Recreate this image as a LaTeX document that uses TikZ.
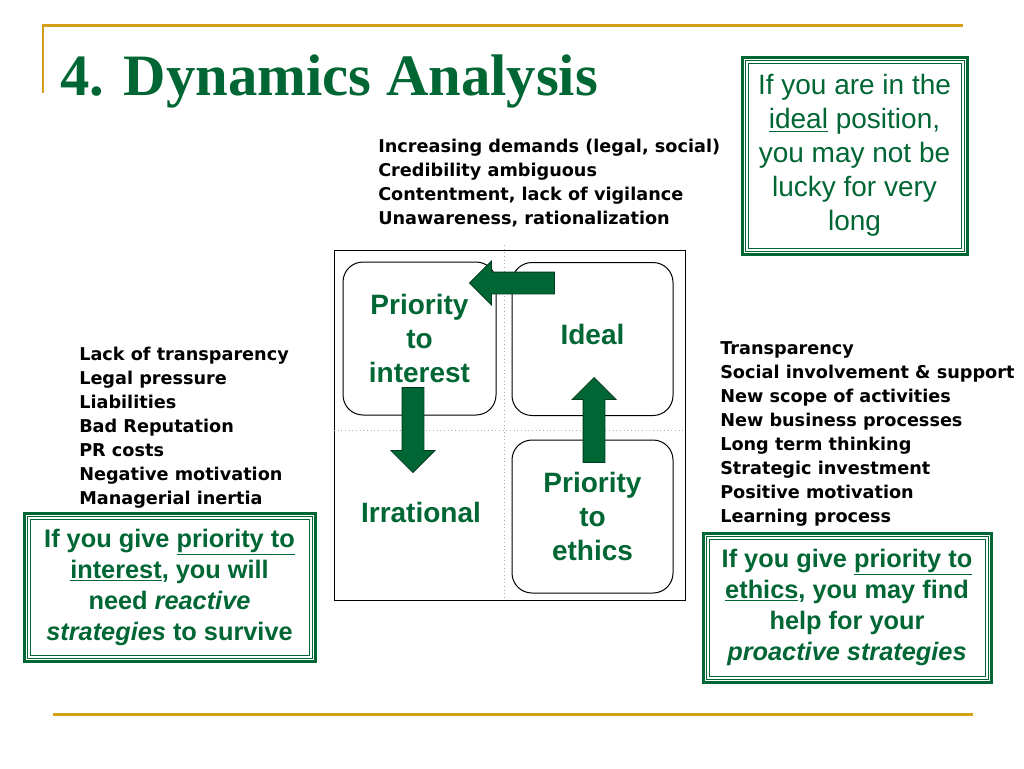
\documentclass[tikz,border=0pt]{standalone}
\usepackage{fontspec}
\setmainfont{Liberation Sans}
\newfontfamily\titlefont{Liberation Serif}
\newfontfamily\listfont{DejaVu Sans}
\definecolor{main}{RGB}{0,102,51}
\definecolor{second}{RGB}{212,160,23}
\definecolor{third}{RGB}{170,170,170}
\usetikzlibrary{
	shapes.arrows,
	arrows.meta,
	positioning
}
\tikzset{
  % line
	cstgold/.style    ={second, line width=2.25pt},
	cstgrid/.style    ={third, dotted, line width=0.75pt},
	cstframe/.style   ={main, line width=0.6pt},
  % node
	csttitle/.style   ={anchor=base west, inner sep=0pt, text=main, font=\titlefont\bfseries\fontsize{44}{50}\selectfont},
	cstlist/.style    ={anchor=north west, inner sep=0pt, align=left, font=\listfont\bfseries\fontsize{13.25}{18}\selectfont},
	cstlabel/.style   ={align=center, text=main, inner sep=0pt, font=\bfseries\fontsize{21}{25.5}\selectfont},
	cstround/.style   ={cstlabel, draw=black, line width=0.75pt, rounded corners=15pt, minimum width=120.75pt, minimum height=114.75pt},
	cstnote/.style    ={draw=main, line width=2.25pt, align=center, text=main, inner sep=0pt},
	cstarrow/.style   ={single arrow, fill=main, draw=main!60!black, line width=0.6pt, minimum width=32.25pt, minimum height=63.75pt, single arrow head extend=8.25pt, inner sep=7.875pt}
}
\begin{document}
\begin{tikzpicture}[x=0.75pt,y=-0.75pt]
	\fill[white] (0,0) rectangle (1024,768);
	\useasboundingbox (0,0) rectangle (1024,768);
	% frame lines
	\draw[cstgold] (42,25) -- (963,25);
	\draw[second, line width=1.1pt] (43,25) -- (43,93);
	\draw[cstgold] (53,714) -- (973,714);
	\node[csttitle] (title) at (60,95) {4. Dynamics Analysis};
	% matrix
	\draw[line width=0.75pt] (334,250) rectangle (685,600);
	\draw[cstgrid] (504,245) -- (504,598);
	\draw[cstgrid] (334,430) -- (685,430);
	\node[cstround, minimum width=114.75pt] (interest) at (419.5,338.5) {Priority\\to\\interest};
	\node[cstround] (ideal) at (592.5,339) {\raisebox{7.5pt}{Ideal}};
	\node[cstround] (ethics) at (592.5,516.5) {Priority\\to\\ethics};
	\node[cstlabel] (irrational) at (421,512) {Irrational};
	\node[cstarrow, shape border rotate=180] (toint) at (517.5,283) {};
	\node[cstarrow, shape border rotate=270] (toirr) at (413,424.5) {};
	\node[cstarrow, shape border rotate=90] (toideal) at (594,425.5) {};
	% lists
	\node[cstlist] (risks) at (378,139) {Increasing demands (legal, social)\\Credibility ambiguous\\Contentment, lack of vigilance\\Unawareness, rationalization};
	\node[cstlist] (costs) at (79,347) {Lack of transparency\\Legal pressure\\Liabilities\\Bad Reputation\\PR costs\\Negative motivation\\Managerial inertia};
	\node[cstlist] (gains) at (720,341) {Transparency\\Social involvement \& support\\New scope of activities\\New business processes\\Long term thinking\\Strategic investment\\Positive motivation\\Learning process};
	% notes
	\node[cstnote, minimum width=168.75pt, minimum height=147.75pt, font=\fontsize{21}{25.5}\selectfont] (idealnote) at (854.5,155.5) {If you are in the\\\underline{ideal} position,\\you may not be\\lucky for very\\long};
	\node[cstnote, minimum width=218.25pt, minimum height=111pt, font=\bfseries\fontsize{19}{23.25}\selectfont] (intnote) at (169.5,587) {If you give \underline{priority to}\\\underline{interest}, you will\\need \textit{reactive}\\\textit{strategies} to survive};
	\node[cstnote, minimum width=216pt, minimum height=111.75pt, font=\bfseries\fontsize{19}{23.25}\selectfont] (ethnote) at (847,607.5) {If you give \underline{priority to}\\\underline{ethics}, you may find\\help for your\\\textit{proactive strategies}};
	\foreach \n in {idealnote,intnote,ethnote}{
		\draw[cstframe] ([shift={(4.5,4.5)}]\n.north west) rectangle ([shift={(-4.5,-4.5)}]\n.south east);
		\draw[cstframe] ([shift={(7.5,7.5)}]\n.north west) rectangle ([shift={(-7.5,-7.5)}]\n.south east);
	}
\end{tikzpicture}
\end{document}
